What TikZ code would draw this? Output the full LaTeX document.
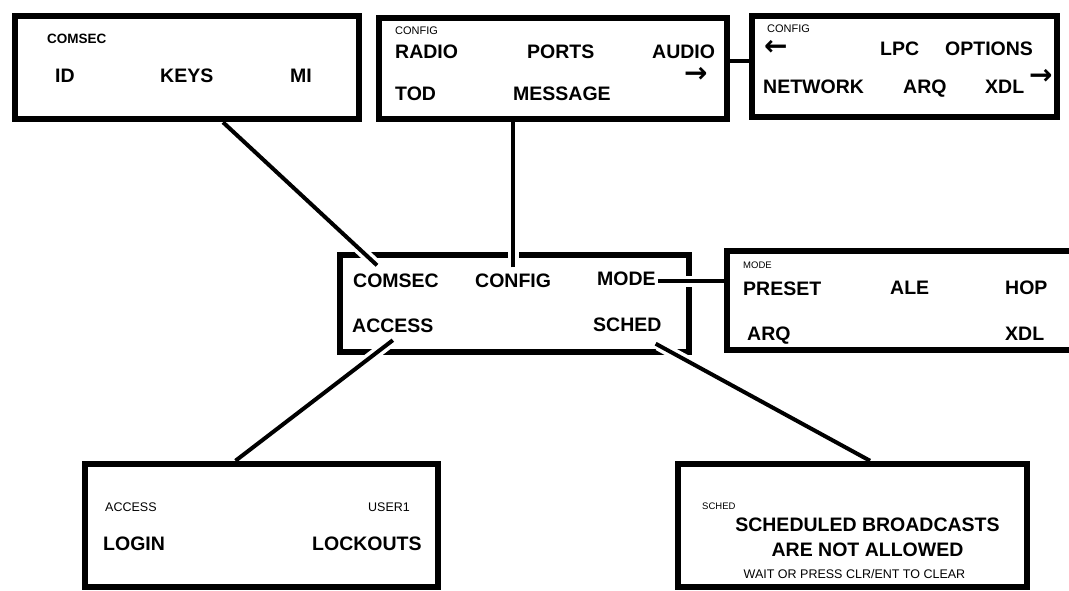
\documentclass[tikz,border=0pt]{standalone}
\usepackage{fontspec}
\setmainfont{Liberation Sans}
\newfontfamily\arrowfont{DejaVu Sans}
\usetikzlibrary{positioning}

\begin{document}
\begin{tikzpicture}[x=1pt, y=-1pt,
    box/.style={rectangle, draw, line width=6.5pt, inner sep=0pt},
    item/.style={anchor=west, inner sep=0pt, text height=14pt, text depth=0pt, font=\fontsize{19.5}{20}\selectfont\bfseries},
    tag/.style={anchor=west, inner sep=0pt, text height=8pt, text depth=0pt, font=\fontsize{11}{12}\selectfont},
    pointer/.style={anchor=west, inner sep=0pt, font=\arrowfont\fontsize{28}{28}\selectfont\bfseries},
    link/.style={line width=4pt},
    cutlink/.style={link, preaction={draw=white, line width=11pt, shorten <=3pt, shorten >=12pt}}
]
\useasboundingbox (0,0) rectangle (1069,590);

% screens
\node[box, minimum width=344pt, minimum height=103pt] (comsecbox) at (187,67.5) {};
\node[box, minimum width=348pt, minimum height=101pt] (configbox) at (553,68.5) {};
\node[box, minimum width=305pt, minimum height=101pt] (optbox) at (904.5,66.5) {};
\node[box, minimum width=349pt, minimum height=97pt] (mainbox) at (514.5,303.5) {};
\node[box, minimum width=348pt, minimum height=99pt] (modebox) at (901,300.5) {};
\node[box, minimum width=353pt, minimum height=123pt] (accessbox) at (261.5,525.5) {};
\node[box, minimum width=349pt, minimum height=123pt] (schedbox) at (852.5,525.5) {};

% COMSEC screen
\node[tag, font=\fontsize{13.5}{14}\selectfont\bfseries, text height=10pt] (cstag) at (47,38) {COMSEC};
\node[item] (csid) at (55,75) {ID};
\node[item] (cskeys) at (160,75) {KEYS};
\node[item] (csmi) at (290,75) {MI};

% CONFIG screen
\node[tag] (cftag) at (395,30) {CONFIG};
\node[item] (cfradio) at (395,51.5) {RADIO};
\node[item] (cfports) at (527,51.5) {PORTS};
\node[item] (cfaudio) at (652,51.5) {AUDIO};
\node[pointer] (cfnext) at (684,75) {→};
\node[item] (cftod) at (395,93) {TOD};
\node[item] (cfmsg) at (513,93) {MESSAGE};

% CONFIG screen, second page
\node[tag] (optag) at (767,28.5) {CONFIG};
\node[pointer] (opback) at (764,47.5) {←};
\node[item] (oplpc) at (880,48.5) {LPC};
\node[item] (opopt) at (945,48.5) {OPTIONS};
\node[item] (opnet) at (763,86) {NETWORK};
\node[item] (oparq) at (903,86) {ARQ};
\node[item] (opxdl) at (985,86) {XDL};
\node[pointer] (opnext) at (1029,77) {→};

% main menu
\node[item] (mcomsec) at (353,280.5) {COMSEC};
\node[item] (mconfig) at (475,280.5) {CONFIG};
\node[item] (mmode) at (597,278) {MODE};
\node[item] (maccess) at (352,325) {ACCESS};
\node[item] (msched) at (593,324.5) {SCHED};

% MODE screen
\node[tag, font=\fontsize{9.5}{10}\selectfont, text height=7pt] (mdtag) at (743,265) {MODE};
\node[item] (mdpreset) at (743,288.5) {PRESET};
\node[item] (mdale) at (890,287) {ALE};
\node[item] (mdhop) at (1005,287) {HOP};
\node[item] (mdarq) at (747,333) {ARQ};
\node[item] (mdxdl) at (1005,333) {XDL};

% ACCESS screen
\node[tag, font=\fontsize{12.5}{13}\selectfont, text height=9pt] (actag) at (105,507) {ACCESS};
\node[tag, font=\fontsize{12.5}{13}\selectfont, text height=9pt] (acuser) at (368,507) {USER1};
\node[item] (aclogin) at (103,543) {LOGIN};
\node[item] (aclock) at (312,543) {LOCKOUTS};

% SCHED screen
\node[tag, font=\fontsize{9.5}{10}\selectfont, text height=7pt] (sctag) at (702,506) {SCHED};
\node[item, anchor=center] (scmsg1) at (867.5,524) {SCHEDULED BROADCASTS};
\node[item, anchor=center] (scmsg2) at (867.5,549) {ARE NOT ALLOWED};
\node[tag, anchor=center, font=\fontsize{12.5}{13}\selectfont, text height=9pt] (schint) at (854.5,574) {WAIT OR PRESS CLR/ENT TO CLEAR};

% connections
\draw[cutlink] ([xshift=24pt, yshift=8pt]mcomsec.north west) -- ([xshift=36pt]comsecbox.south);
\draw[cutlink] ([yshift=6pt]mconfig.north) -- (mconfig.north |- configbox.south);
\draw[cutlink] ([xshift=2pt, yshift=-3pt]mmode.east) -- ([yshift=-3pt]mmode.east -| modebox.west);
\draw[cutlink] ([yshift=-8pt]maccess.south) -- ([xshift=-26pt]accessbox.north);
\draw[cutlink] ([xshift=-6pt, yshift=-12pt]msched.south east) -- ([xshift=17.5pt]schedbox.north);
\draw[link] ([yshift=8pt]configbox.east) -- ([yshift=8pt]configbox.east -| optbox.west);
\end{tikzpicture}
\end{document}
